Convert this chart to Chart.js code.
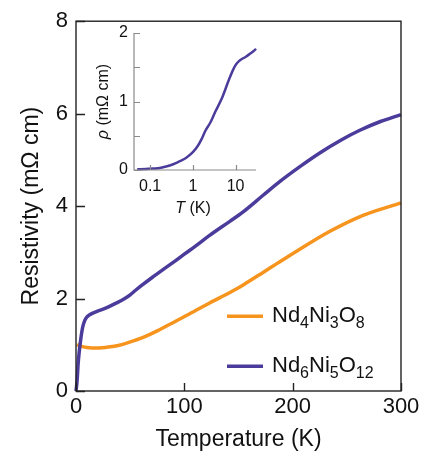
<!DOCTYPE html>
<html>
<head>
<meta charset="utf-8">
<script src="https://cdn.jsdelivr.net/npm/chart.js@4"></script>
<style>
  html, body { margin: 0; padding: 0; background: #fff; }
  #wrap { position: relative; width: 437px; height: 459px; }
  #wrap canvas { position: absolute; left: 0; top: 0; }
</style>
</head>
<body>
<div id="wrap">
  <canvas id="main" width="437" height="459"></canvas>
  <canvas id="inset" width="437" height="459"></canvas>
</div>
<script>
// ---- Main panel: resistivity vs temperature ----
const seriesNames = ['Nd4Ni3O8', 'Nd6Ni5O12'];
const seriesColors = ['#f7941d', '#4b3c9c'];

// Nd4Ni3O8
const tempA = [1, 3, 6, 10, 15, 20, 30, 40, 46, 55, 62, 75, 92, 105, 123, 142, 154, 173, 185, 204, 234, 265, 300];
const rhoA  = [1.01, 0.98, 0.96, 0.94, 0.93, 0.93, 0.95, 0.99, 1.03, 1.10, 1.16, 1.30, 1.51, 1.67, 1.90, 2.13, 2.29, 2.57, 2.75, 3.03, 3.45, 3.80, 4.07];

// Nd6Ni5O12
const tempB = [0, 1, 2, 3, 4, 5, 6, 8, 10, 12, 15, 20, 25, 30, 37, 45, 50, 55, 61.5, 70, 80, 92, 100, 110, 123, 142, 154, 173, 188, 207, 225, 244, 262, 281, 300];
const rhoB  = [0.0, 0.22, 0.6, 0.85, 1.05, 1.22, 1.36, 1.52, 1.60, 1.64, 1.68, 1.73, 1.77, 1.82, 1.90, 2.00, 2.08, 2.18, 2.30, 2.45, 2.62, 2.82, 2.96, 3.13, 3.36, 3.67, 3.87, 4.24, 4.53, 4.86, 5.15, 5.42, 5.64, 5.83, 5.98];

const xTicksMain = [0, 100, 200, 300];
const yTicksMain = [0, 2, 4, 6, 8];

// ---- Inset: low-temperature resistivity of Nd6Ni5O12 on a log axis ----
const tempInset = [0.05, 0.08, 0.1, 0.15, 0.2, 0.3, 0.4, 0.5, 0.7, 1.0, 1.3, 1.6, 1.95, 2.55, 3.35, 4.8, 6.9, 9, 10.5, 12, 14, 17, 22, 28, 30];
const rhoInset  = [0.01, 0.015, 0.02, 0.025, 0.04, 0.07, 0.10, 0.13, 0.18, 0.26, 0.35, 0.45, 0.57, 0.69, 0.85, 1.05, 1.31, 1.48, 1.55, 1.59, 1.62, 1.65, 1.70, 1.75, 1.77];
const xTicksInset = [0.1, 1, 10];
const yTicksInset = [0, 0.5, 1, 1.5, 2];

const FAMILY = "'Liberation Sans', Arimo, Arial, sans-serif";
const pairs = (xs, ys) => xs.map((x, i) => ({ x, y: ys[i] }));

// Inward tick marks and a closed box around the main plot
const mainFrame = {
  id: 'mainFrame',
  afterDraw(chart) {
    const { ctx, chartArea: a, scales: { x, y } } = chart;
    ctx.save();
    ctx.strokeStyle = '#222';
    ctx.lineWidth = 1.4;
    ctx.strokeRect(a.left, a.top, a.right - a.left, a.bottom - a.top);
    ctx.beginPath();
    x.ticks.forEach(t => {
      const px = Math.round(x.getPixelForValue(t.value)) + 0.5;
      ctx.moveTo(px, a.bottom); ctx.lineTo(px, a.bottom - 8);
    });
    y.ticks.forEach(t => {
      const py = Math.round(y.getPixelForValue(t.value)) + 0.5;
      ctx.moveTo(a.left, py); ctx.lineTo(a.left + 9, py);
    });
    ctx.stroke();
    ctx.restore();
  }
};

// Legend with chemical-formula subscripts (digits drawn lowered and smaller)
function drawFormula(ctx, text, x, baseline, size, subSize, subDrop) {
  const parts = text.match(/[A-Za-z]+|\d+/g);
  let cx = x;
  parts.forEach(p => {
    const isSub = /^\d+$/.test(p);
    ctx.font = (isSub ? subSize : size) + 'px ' + FAMILY;
    ctx.fillText(p, cx, baseline + (isSub ? subDrop : 0));
    cx += ctx.measureText(p).width;
  });
}
const formulaLegend = {
  id: 'formulaLegend',
  afterDraw(chart) {
    const { ctx, chartArea: a } = chart;
    const x0 = a.left + 151, x1 = a.left + 187, tx = a.left + 196;
    const rows = [a.top + 295, a.top + 345];
    ctx.save();
    seriesNames.forEach((name, i) => {
      ctx.strokeStyle = seriesColors[i];
      ctx.lineWidth = 3.5;
      ctx.beginPath();
      ctx.moveTo(x0, rows[i]); ctx.lineTo(x1, rows[i]);
      ctx.stroke();
      ctx.fillStyle = '#111';
      ctx.textBaseline = 'alphabetic';
      drawFormula(ctx, name, tx, rows[i] + 6, 22, 16, 6);
    });
    ctx.restore();
  }
};

new Chart(document.getElementById('main'), {
  type: 'line',
  data: {
    datasets: [
      { label: seriesNames[1], data: pairs(tempB, rhoB), borderColor: seriesColors[1], borderWidth: 3.5,
        pointRadius: 0, cubicInterpolationMode: 'monotone', fill: false, clip: 4 },
      { label: seriesNames[0], data: pairs(tempA, rhoA), borderColor: seriesColors[0], borderWidth: 3.5,
        pointRadius: 0, cubicInterpolationMode: 'monotone', fill: false, clip: 4 }
    ]
  },
  options: {
    responsive: false,
    animation: false,
    events: [],
    layout: { padding: { left: 0, top: 16, right: 36, bottom: 0 }, autoPadding: false },
    plugins: { legend: { display: false }, tooltip: { enabled: false } },
    scales: {
      x: {
        type: 'linear', min: 0, max: 300,
        afterBuildTicks: s => { s.ticks = xTicksMain.map(v => ({ value: v })); },
        afterFit: s => { s.height = 68; },
        grid: { display: false, drawTicks: false },
        border: { display: false },
        ticks: { color: '#111', font: { family: FAMILY, size: 22 }, padding: 3, maxRotation: 0, autoSkip: false },
        title: { display: true, text: 'Temperature (K)', color: '#111',
                 font: { family: FAMILY, size: 23 }, padding: { top: 0, bottom: 6 } }
      },
      y: {
        type: 'linear', min: 0, max: 8,
        afterBuildTicks: s => { s.ticks = yTicksMain.map(v => ({ value: v })); },
        afterFit: s => { s.width = 76; },
        grid: { display: false, drawTicks: false },
        border: { display: false },
        ticks: { color: '#111', font: { family: FAMILY, size: 22 }, padding: 8, autoSkip: false },
        title: { display: true, text: 'Resistivity (mΩ cm)', color: '#111',
                 font: { family: FAMILY, size: 23 }, padding: { top: 18, bottom: 0 } }
      }
    }
  },
  plugins: [mainFrame, formulaLegend]
});

// Inset axes: open frame (left + bottom), inward ticks, titles with italic symbols
const insetDecor = {
  id: 'insetDecor',
  afterDraw(chart) {
    const { ctx, chartArea: a, scales: { x, y } } = chart;
    ctx.save();
    ctx.strokeStyle = '#8a8a8a';
    ctx.lineWidth = 1.2;
    ctx.beginPath();
    ctx.moveTo(a.left, a.top); ctx.lineTo(a.left, a.bottom); ctx.lineTo(a.right, a.bottom);
    x.ticks.forEach(t => {
      const px = Math.round(x.getPixelForValue(t.value)) + 0.5;
      ctx.moveTo(px, a.bottom); ctx.lineTo(px, a.bottom - 5);
    });
    y.ticks.forEach(t => {
      const py = Math.round(y.getPixelForValue(t.value)) + 0.5;
      ctx.moveTo(a.left, py); ctx.lineTo(a.left + 6, py);
    });
    ctx.stroke();

    ctx.fillStyle = '#111';
    ctx.textBaseline = 'middle';
    // x title: italic T followed by unit
    const xParts = [['T', 'italic '], [' (K)', '']];
    const size = 16;
    let w = 0;
    xParts.forEach(([s, st]) => { ctx.font = st + size + 'px ' + FAMILY; w += ctx.measureText(s).width; });
    let cx = (a.left + a.right) / 2 - 2 - w / 2;
    xParts.forEach(([s, st]) => {
      ctx.font = st + size + 'px ' + FAMILY;
      ctx.fillText(s, cx, a.bottom + 39);
      cx += ctx.measureText(s).width;
    });
    // y title, rotated: italic rho followed by unit
    const yParts = [['ρ', 'italic '], [' (mΩ cm)', '']];
    w = 0;
    yParts.forEach(([s, st]) => { ctx.font = st + size + 'px ' + FAMILY; w += ctx.measureText(s).width; });
    ctx.translate(a.left - 30, (a.top + a.bottom) / 2);
    ctx.rotate(-Math.PI / 2);
    cx = -w / 2;
    yParts.forEach(([s, st]) => {
      ctx.font = st + size + 'px ' + FAMILY;
      ctx.fillText(s, cx, 0);
      cx += ctx.measureText(s).width;
    });
    ctx.restore();
  }
};

new Chart(document.getElementById('inset'), {
  type: 'line',
  data: {
    datasets: [
      { label: seriesNames[1], data: pairs(tempInset, rhoInset), borderColor: seriesColors[1], borderWidth: 2.5,
        pointRadius: 0, cubicInterpolationMode: 'monotone', fill: false, clip: 3 }
    ]
  },
  options: {
    responsive: false,
    animation: false,
    events: [],
    layout: { padding: { left: 85, top: 33, right: 181, bottom: 234 }, autoPadding: false },
    plugins: { legend: { display: false }, tooltip: { enabled: false } },
    scales: {
      x: {
        type: 'logarithmic', min: 0.042, max: 30,
        afterBuildTicks: s => { s.ticks = xTicksInset.map(v => ({ value: v })); },
        afterFit: s => { s.height = 55; },
        grid: { display: false, drawTicks: false },
        border: { display: false },
        ticks: { color: '#111', font: { family: FAMILY, size: 16 }, padding: 7, maxRotation: 0, autoSkip: false,
                 callback: v => String(v) }
      },
      y: {
        type: 'linear', min: 0, max: 2,
        afterBuildTicks: s => { s.ticks = yTicksInset.map(v => ({ value: v })); },
        afterFit: s => { s.width = 49; },
        grid: { display: false, drawTicks: false },
        border: { display: false },
        ticks: { color: '#111', font: { family: FAMILY, size: 16 }, padding: 6, autoSkip: false,
                 callback: v => (Number.isInteger(v) ? String(v) : '') }
      }
    }
  },
  plugins: [insetDecor]
});
</script>
</body>
</html>
